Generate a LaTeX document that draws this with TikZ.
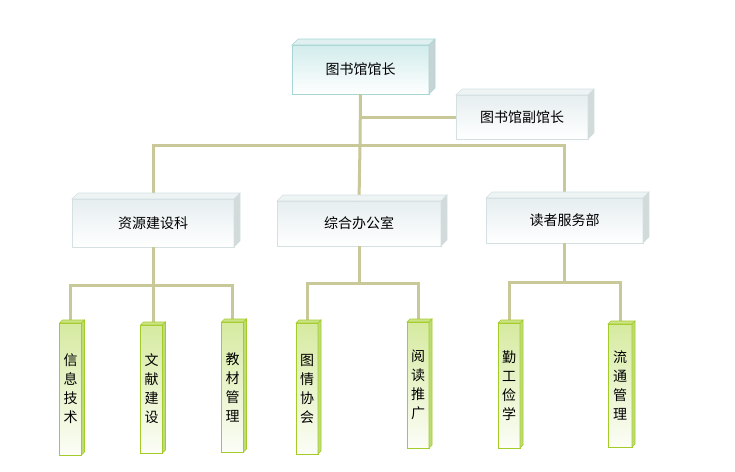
\documentclass[tikz,border=0pt]{standalone}
\usepackage{fontspec}
\newfontfamily\cjk{Noto Sans CJK SC}
\usetikzlibrary{calc}
\definecolor{linkc}{HTML}{C8C898}
\definecolor{topborder}{HTML}{A8D6D6}
\definecolor{toptop}{HTML}{D2ECEC}
\definecolor{topface}{HTML}{E0F0F0}
\definecolor{topside}{HTML}{C8D4D4}
\definecolor{grayborder}{HTML}{D4E0E2}
\definecolor{graytop}{HTML}{E6EEF0}
\definecolor{grayface}{HTML}{EEF3F3}
\definecolor{grayside}{HTML}{D2DADA}
\definecolor{leafborder}{HTML}{A4CC28}
\definecolor{leaftop}{HTML}{D6EAA0}
\definecolor{leafface}{HTML}{CCE488}
\definecolor{leafside}{HTML}{BCDC78}
\newcommand\depthfaces[5]{%
  \filldraw[draw=#5,fill=#3,line width=0.6pt,line join=miter]
    (#1.north west) -- ++(#2,-#2) -- ($(#1.north east)+(#2,-#2)$) -- (#1.north east) -- cycle;
  \filldraw[draw=#5,fill=#4,line width=0.6pt,line join=miter]
    (#1.north east) -- ++(#2,-#2) -- ($(#1.south east)+(#2,-#2)$) -- (#1.south east) -- cycle;
}
\tikzset{
  every node/.style={font=\cjk\fontsize{14}{16}\selectfont, text=black, outer sep=0pt, inner sep=0pt},
  headbox/.style={draw=topborder, line width=0.8pt, top color=toptop, bottom color=white, minimum width=137, minimum height=49},
  graybox/.style={draw=grayborder, line width=0.8pt, top color=graytop, bottom color=white},
  leafbox/.style={draw=leafborder, line width=0.8pt, top color=leaftop, bottom color=white!92!leaftop, minimum width=22, align=center, font=\cjk\fontsize{14}{19}\selectfont},
  link/.style={draw=linkc, line width=3pt, line join=miter}
}
\begin{document}
\begin{tikzpicture}[x=1pt,y=-1pt]
\useasboundingbox (0,0) rectangle (735,471);
% top level
\node[headbox] (head) at (360.5,69.5) {图书馆馆长};
\node[graybox, minimum width=132, minimum height=44] (deputy) at (522,117) {图书馆副馆长};
% departments
\node[graybox, minimum width=162, minimum height=48] (d1) at (153,223) {资源建设科};
\node[graybox, minimum width=164, minimum height=45] (d2) at (359,223.5) {综合办公室};
\node[graybox, minimum width=157, minimum height=45] (d3) at (564.5,220.5) {读者服务部};
% leaves
\node[leafbox, minimum height=132] (l1) at (70.5,389) {信\\息\\技\\术};
\node[leafbox, minimum height=128] (l2) at (151.5,389) {文\\献\\建\\设};
\node[leafbox, minimum height=130] (l3) at (232.5,387) {教\\材\\管\\理};
\node[leafbox, minimum height=131] (l4) at (307,388.5) {图\\情\\协\\会};
\node[leafbox, minimum height=126] (l5) at (418,385) {阅\\读\\推\\广};
\node[leafbox, minimum height=125] (l6) at (509,385.5) {勤\\工\\俭\\学};
\node[leafbox, minimum width=24, minimum height=123] (l7) at (620,385.5) {流\\通\\管\\理};
% junction points
\coordinate (bar) at (360,145);
\coordinate (j1) at (153,285);
\coordinate (j2) at (359,283);
\coordinate (j3) at (564.5,282);
% connectors
\draw[link] (head.south) -- (bar);
\draw[link] (head.south |- deputy.west) -- (deputy.west);
\draw[link] (d1.north) |- (bar) -| (d3.north);
\draw[link] (bar) -- (d2.north);
\draw[link] (d1.south) -- (j1);
\draw[link] (l1.north) |- (j1) -| (l3.north);
\draw[link] (j1) -- (l2.north -| j1);
\draw[link] (d2.south) -- (j2);
\draw[link] (l4.north) |- (j2) -| (l5.north);
\draw[link] (d3.south) -- (j3);
\draw[link] (l6.north) |- (j3) -| (l7.north);
% 3D faces
\depthfaces{head}{6}{topface}{topside}{topborder}
\depthfaces{deputy}{6}{grayface}{grayside}{grayborder}
\depthfaces{d1}{6}{grayface}{grayside}{grayborder}
\depthfaces{d2}{6}{grayface}{grayside}{grayborder}
\depthfaces{d3}{6}{grayface}{grayside}{grayborder}
\foreach \n in {l1,l2,l3,l4,l5,l6,l7}{\depthfaces{\n}{3}{leafface}{leafside}{leafborder}}
\end{tikzpicture}
\end{document}
